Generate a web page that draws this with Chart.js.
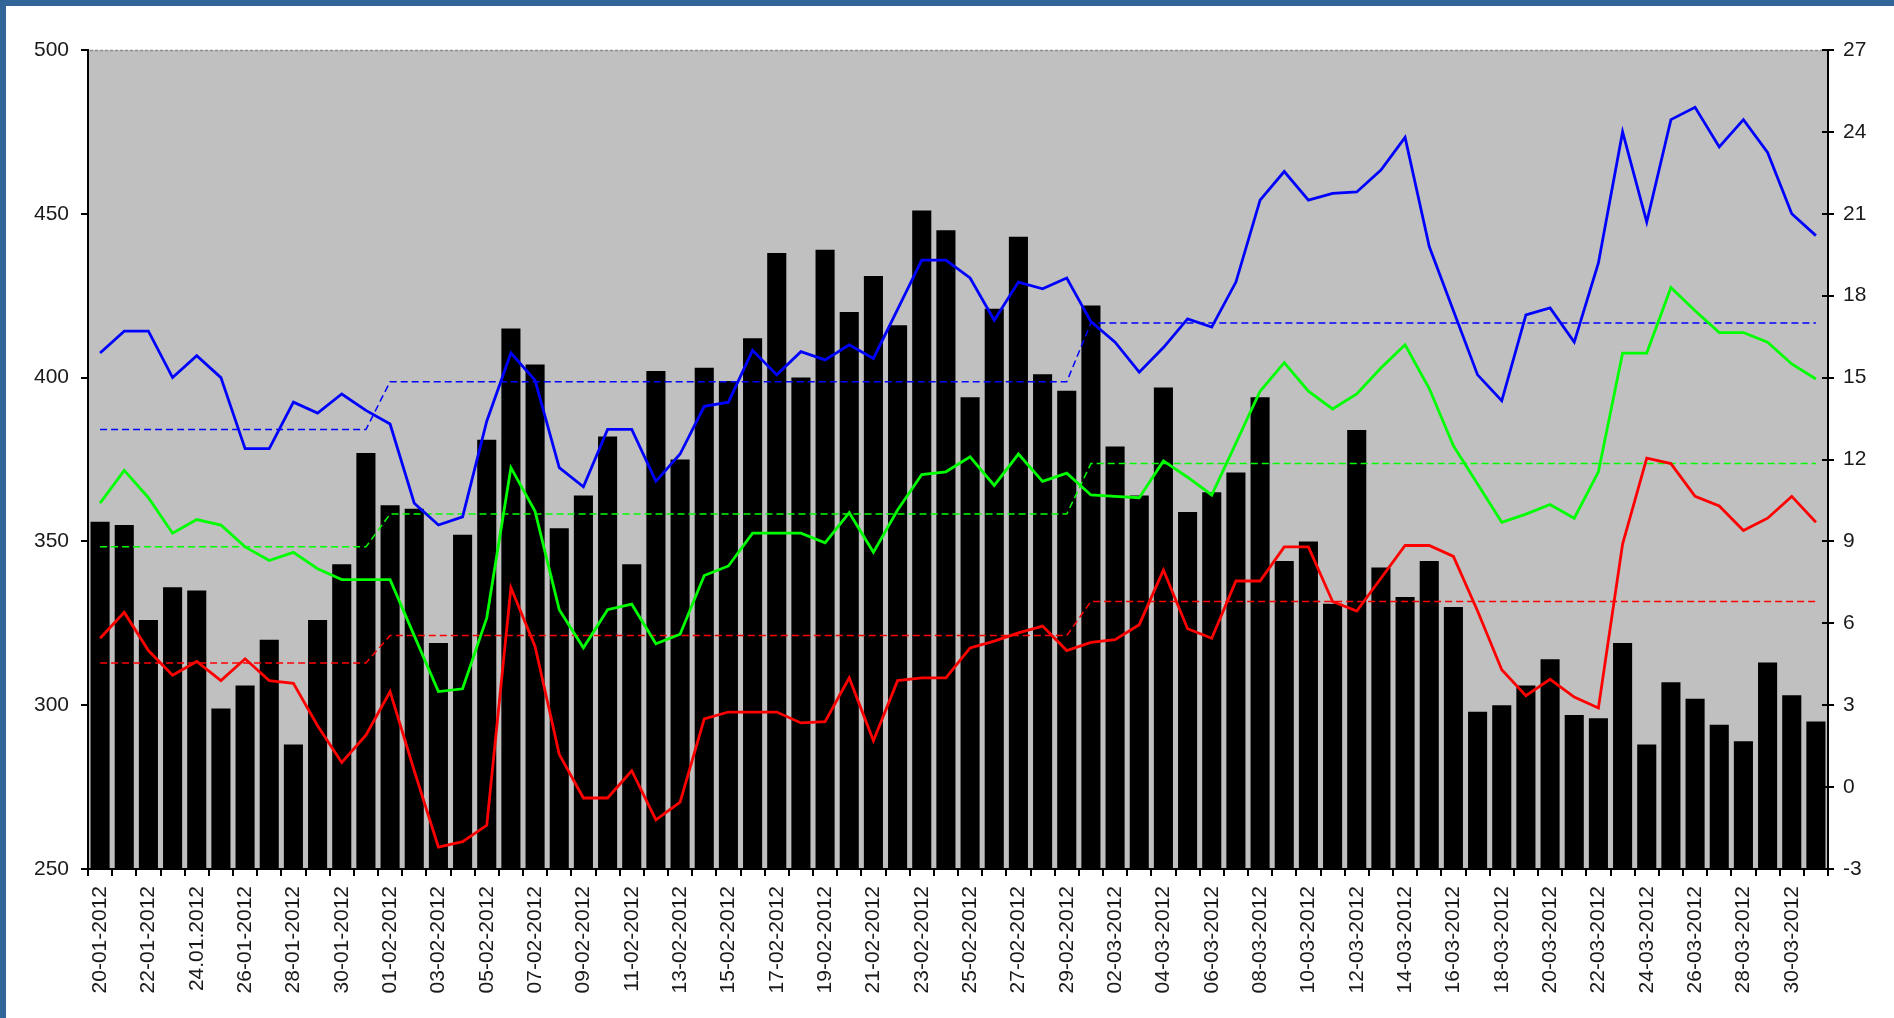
<!DOCTYPE html>
<html>
<head>
<meta charset="utf-8">
<style>
  html, body { margin: 0; padding: 0; background: #fff; }
  #wrap { position: relative; width: 1894px; height: 1018px; }
  canvas { display: block; }
</style>
<script src="https://cdn.jsdelivr.net/npm/chart.js@4/dist/chart.umd.min.js"></script>
</head>
<body>
<div id="wrap"><canvas id="c" width="1894" height="1018"></canvas></div>
<script>
// ---- DATA ----
const dates = [
  '20-01-2012','21-01-2012','22-01-2012','23-01-2012','24.01.2012','25-01-2012','26-01-2012','27-01-2012',
  '28-01-2012','29-01-2012','30-01-2012','31-01-2012',
  '01-02-2012','02-02-2012','03-02-2012','04-02-2012','05-02-2012','06-02-2012','07-02-2012','08-02-2012',
  '09-02-2012','10-02-2012','11-02-2012','12-02-2012','13-02-2012','14-02-2012','15-02-2012','16-02-2012',
  '17-02-2012','18-02-2012','19-02-2012','20-02-2012','21-02-2012','22-02-2012','23-02-2012','24-02-2012',
  '25-02-2012','26-02-2012','27-02-2012','28-02-2012','29-02-2012',
  '01-03-2012','02-03-2012','03-03-2012','04-03-2012','05-03-2012','06-03-2012','07-03-2012','08-03-2012',
  '09-03-2012','10-03-2012','11-03-2012','12-03-2012','13-03-2012','14-03-2012','15-03-2012','16-03-2012',
  '17-03-2012','18-03-2012','19-03-2012','20-03-2012','21-03-2012','22-03-2012','23-03-2012','24-03-2012',
  '25-03-2012','26-03-2012','27-03-2012','28-03-2012','29-03-2012','30-03-2012','31-03-2012'
];

// bars (left axis)
const barValues = [
  356,355,326,336,335,299,306,320,288,326,343,377,
  361,360,319,352,381,415,404,354,364,382,343,402,375,403,399,412,438,400,439,420,431,416,451,445,394,421,443,401,396,
  422,379,364,397,359,365,371,394,344,350,331,384,342,333,344,330,298,300,306,314,297,296,319,288,307,302,294,289,313,303,295
];

// lines (right axis)
const blueValues = [
  15.9,16.7,16.7,15.0,15.8,15.0,12.4,12.4,14.1,13.7,14.4,13.8,
  13.3,10.4,9.6,9.9,13.4,15.9,14.9,11.7,11.0,13.1,13.1,11.2,12.2,13.95,14.1,16.0,15.1,15.95,15.65,16.2,15.7,17.5,19.3,19.3,18.65,17.1,18.5,18.25,18.65,
  17.05,16.3,15.2,16.1,17.15,16.85,18.5,21.5,22.55,21.5,21.75,21.8,22.6,23.8,19.8,17.45,15.1,14.15,17.3,17.55,16.3,19.2,24.0,20.7,24.45,24.9,23.45,24.45,23.25,21.0,20.2
];
const greenValues = [
  10.4,11.6,10.6,9.3,9.8,9.6,8.8,8.3,8.6,8.0,7.6,7.6,
  7.6,5.55,3.5,3.6,6.2,11.7,10.1,6.5,5.1,6.5,6.7,5.25,5.6,7.75,8.1,9.3,9.3,9.3,8.95,10.05,8.6,10.15,11.45,11.55,12.1,11.05,12.2,11.2,11.5,
  10.7,10.65,10.6,11.95,11.35,10.7,12.6,14.5,15.55,14.5,13.85,14.4,15.35,16.2,14.6,12.5,11.1,9.7,10.0,10.35,9.85,11.55,15.9,15.9,18.3,17.45,16.65,16.65,16.3,15.5,14.95
];
const redValues = [
  5.45,6.4,5.0,4.1,4.6,3.9,4.7,3.9,3.8,2.25,0.9,1.9,
  3.5,0.6,-2.2,-2.0,-1.4,7.3,5.15,1.2,-0.4,-0.4,0.6,-1.2,-0.55,2.5,2.75,2.75,2.75,2.35,2.4,4.0,1.7,3.9,4.0,4.0,5.1,5.35,5.65,5.9,5.0,
  5.3,5.4,5.95,7.95,5.8,5.45,7.55,7.55,8.8,8.8,6.8,6.45,7.65,8.85,8.85,8.45,6.45,4.3,3.35,3.95,3.3,2.9,8.9,12.05,11.85,10.65,10.3,9.4,9.85,10.65,9.7
];

// monthly averages (Jan, Feb, Mar) shown as dashed lines
const blueMonthAvg  = [13.1, 14.85, 17.0];
const greenMonthAvg = [8.8, 10.0, 11.85];
const redMonthAvg   = [4.55, 5.55, 6.8];

const leftTicks  = { min: 250, max: 500, step: 50 };
const rightTicks = { min: -3, max: 27, step: 3 };

// ---- build ----
const monthIdx = dates.map(d => parseInt(d.split(/[-.]/)[1], 10) - 1);
const perDay = arr => monthIdx.map(m => arr[m]);

const FONT = { family: "'Liberation Sans', Arial, sans-serif", size: 21 };
const TEXT = '#1a1a1a';

const framePlugin = {
  id: 'frame',
  beforeDraw(chart) {
    const { ctx, chartArea: a } = chart;
    ctx.save();
    ctx.fillStyle = '#ffffff';
    ctx.fillRect(0, 0, chart.width, chart.height);
    ctx.fillStyle = '#31659a';
    ctx.fillRect(0, 0, chart.width, 6);
    ctx.fillRect(0, 0, 6, chart.height);
    ctx.fillStyle = '#c0c0c0';
    ctx.fillRect(a.left, a.top, a.right - a.left, a.bottom - a.top);
    ctx.restore();
  },
  afterDraw(chart) {
    const { ctx, chartArea: a } = chart;
    ctx.save();
    ctx.strokeStyle = '#8c8c8c';
    ctx.lineWidth = 1.5;
    ctx.setLineDash([3, 2]);
    ctx.beginPath();
    ctx.moveTo(a.left + 2, a.top + 0.5);
    ctx.lineTo(a.right - 1, a.top + 0.5);
    ctx.stroke();
    ctx.setLineDash([]);
    // inner half of crossing ticks on the right axis
    const y1 = chart.scales.y1;
    ctx.strokeStyle = '#000';
    ctx.lineWidth = 2;
    y1.ticks.forEach(t => {
      const py = Math.round(y1.getPixelForValue(t.value));
      ctx.beginPath();
      ctx.moveTo(a.right - 6, py);
      ctx.lineTo(a.right, py);
      ctx.stroke();
    });
    ctx.restore();
  }
};

const solid = (label, data, color) => ({
  type: 'line', label, data, yAxisID: 'y1',
  borderColor: color, backgroundColor: color, borderWidth: 2.8,
  pointRadius: 0, tension: 0, fill: false, order: 1
});
const dashed = (label, data, color) => ({
  type: 'line', label, data, yAxisID: 'y1',
  borderColor: color, backgroundColor: color, borderWidth: 1.5, borderDash: [7, 4],
  pointRadius: 0, tension: 0, fill: false, order: 2
});

new Chart(document.getElementById('c'), {
  type: 'bar',
  data: {
    labels: dates,
    datasets: [
      { type: 'bar', label: 'bars', data: barValues, yAxisID: 'y', backgroundColor: '#000000',
        borderWidth: 0, barPercentage: 0.79, categoryPercentage: 1.0, order: 10 },
      dashed('blue avg', perDay(blueMonthAvg), '#0000ff'),
      dashed('green avg', perDay(greenMonthAvg), '#00ff00'),
      dashed('red avg', perDay(redMonthAvg), '#ff0000'),
      solid('blue', blueValues, '#0000ff'),
      solid('green', greenValues, '#00ff00'),
      solid('red', redValues, '#ff0000')
    ]
  },
  options: {
    responsive: false,
    animation: false,
    events: [],
    layout: { padding: { top: 50, left: 0, right: 0, bottom: 0 } },
    plugins: { legend: { display: false }, title: { display: false }, tooltip: { enabled: false } },
    scales: {
      x: {
        type: 'category',
        offset: true,
        grid: { display: true, drawOnChartArea: false, drawTicks: true, tickLength: 7, color: '#000', lineWidth: 2, offset: true },
        border: { display: true, color: '#000', width: 2 },
        ticks: {
          autoSkip: false, maxRotation: 90, minRotation: 90, padding: 10,
          color: TEXT, font: FONT,
          callback: (v, i) => (i % 2 === 0 ? dates[i] : '')
        },
        afterFit: s => { s.height = 149; }
      },
      y: {
        position: 'left',
        min: leftTicks.min, max: leftTicks.max,
        grid: { drawOnChartArea: false, drawTicks: true, tickLength: 7, color: '#000', lineWidth: 2 },
        border: { display: true, color: '#000', width: 2 },
        ticks: { stepSize: leftTicks.step, padding: 12, color: TEXT, font: FONT },
        afterFit: s => { s.width = 88; }
      },
      y1: {
        position: 'right',
        min: rightTicks.min, max: rightTicks.max,
        grid: { drawOnChartArea: false, drawTicks: true, tickLength: 6, color: '#000', lineWidth: 2 },
        border: { display: true, color: '#000', width: 2 },
        ticks: { stepSize: rightTicks.step, padding: 9, color: TEXT, font: FONT },
        afterFit: s => { s.width = 66; }
      }
    }
  },
  plugins: [framePlugin]
});
</script>
</body>
</html>
